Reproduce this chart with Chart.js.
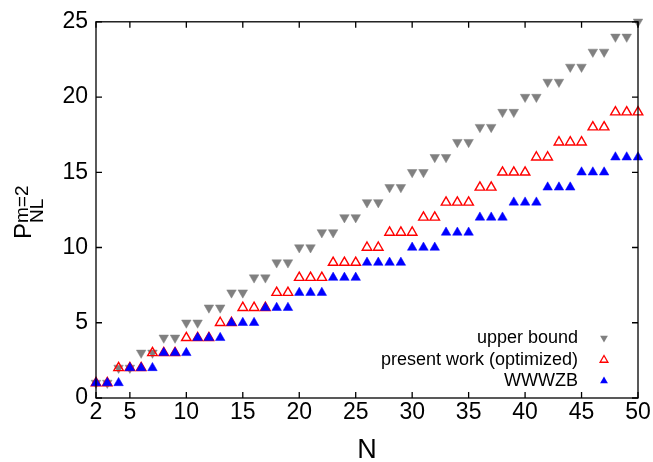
<!DOCTYPE html>
<html>
<head>
<meta charset="utf-8">
<script src="https://cdn.jsdelivr.net/npm/chart.js@4.4.1/dist/chart.umd.min.js"></script>
<style>
  html, body { margin: 0; padding: 0; background: #fff; }
  #wrap { width: 653px; height: 462px; }
</style>
</head>
<body>
<div id="wrap"><canvas id="chart"></canvas></div>
<script>
// N values on the x axis
const nValues = [2, 3, 4, 5, 6, 7, 8, 9, 10, 11, 12, 13, 14, 15, 16, 17, 18, 19, 20, 21, 22, 23, 24, 25,
    26, 27, 28, 29, 30, 31, 32, 33, 34, 35, 36, 37, 38, 39, 40, 41, 42, 43, 44, 45, 46, 47, 48, 49, 50];

const upperBound = [1, 1, 2, 2, 3, 3, 4, 4, 5, 5, 6, 6, 7, 7, 8, 8, 9, 9, 10, 10, 11, 11, 12, 12,
    13, 13, 14, 14, 15, 15, 16, 16, 17, 17, 18, 18, 19, 19, 20, 20, 21, 21, 22, 22, 23, 23, 24, 24, 25];

const presentWork = [1, 1, 2, 2, 2, 3, 3, 3, 4, 4, 4, 5, 5, 6, 6, 6, 7, 7, 8, 8, 8, 9, 9, 9,
    10, 10, 11, 11, 11, 12, 12, 13, 13, 13, 14, 14, 15, 15, 15, 16, 16, 17, 17, 17, 18, 18, 19, 19, 19];

const wwwzb = [1, 1, 1, 2, 2, 2, 3, 3, 3, 4, 4, 4, 5, 5, 5, 6, 6, 6, 7, 7, 7, 8, 8, 8,
    9, 9, 9, 9, 10, 10, 10, 11, 11, 11, 12, 12, 12, 13, 13, 13, 14, 14, 14, 15, 15, 15, 16, 16, 16];

const xTickValues = [2, 5, 10, 15, 20, 25, 30, 35, 40, 45, 50];
const yTickValues = [0, 5, 10, 15, 20, 25];

const seriesLabels = ['upper bound', 'present work (optimized)', 'WWWZB'];

const colors = {
    gray: '#808080',
    red: '#ff0000',
    blue: '#0000ff',
    text: '#000000'
};

const FONT = '"Liberation Sans", Arial, sans-serif';

function toPoints(ys) {
    return nValues.map((n, i) => ({ x: n, y: ys[i] }));
}

/* frame, inward ticks, axis titles and legend */
const decorations = {
    id: 'decorations',
    afterDraw(chart) {
        const { ctx, chartArea: a, scales } = chart;
        const tl = 6;
        ctx.save();
        ctx.strokeStyle = '#000';
        ctx.lineWidth = 1.3;
        ctx.strokeRect(a.left, a.top, a.right - a.left, a.bottom - a.top);
        ctx.beginPath();
        xTickValues.forEach(v => {
            const x = scales.x.getPixelForValue(v);
            ctx.moveTo(x, a.bottom); ctx.lineTo(x, a.bottom - tl);
            ctx.moveTo(x, a.top); ctx.lineTo(x, a.top + tl);
        });
        yTickValues.forEach(v => {
            const y = scales.y.getPixelForValue(v);
            ctx.moveTo(a.left, y); ctx.lineTo(a.left + tl, y);
            ctx.moveTo(a.right, y); ctx.lineTo(a.right - tl, y);
        });
        ctx.stroke();

        // x title
        ctx.fillStyle = colors.text;
        ctx.font = '27px ' + FONT;
        ctx.textAlign = 'center';
        ctx.textBaseline = 'alphabetic';
        ctx.fillText('N', (a.left + a.right) / 2, 458);

        // y title  P_{NL}^{m=2}
        ctx.save();
        ctx.translate(31, 239);
        ctx.rotate(-Math.PI / 2);
        ctx.textAlign = 'left';
        ctx.font = '24px ' + FONT;
        ctx.fillText('P', 0, 0);
        const pw = ctx.measureText('P').width;
        ctx.font = '19px ' + FONT;
        ctx.fillText('NL', pw, 12);
        ctx.fillText('m=2', pw, -3);
        ctx.restore();

        // legend
        const entries = [
            { y: 338, color: colors.gray, down: true, fill: true },
            { y: 360, color: colors.red, down: false, fill: false },
            { y: 381, color: colors.blue, down: false, fill: true }
        ];
        ctx.font = '18px ' + FONT;
        ctx.textAlign = 'right';
        ctx.textBaseline = 'middle';
        entries.forEach((e, i) => {
            ctx.fillStyle = colors.text;
            ctx.fillText(seriesLabels[i], 578, e.y);
            const mx = 604, r = 4.5;
            const s = e.down ? -1 : 1;
            ctx.beginPath();
            ctx.moveTo(mx, e.y - s * r);
            ctx.lineTo(mx + r * 0.866, e.y + s * r * 0.5);
            ctx.lineTo(mx - r * 0.866, e.y + s * r * 0.5);
            ctx.closePath();
            if (e.fill) {
                ctx.fillStyle = e.color;
                ctx.fill();
            } else {
                ctx.strokeStyle = e.color;
                ctx.lineWidth = 1.3;
                ctx.stroke();
            }
        });
        ctx.restore();
    }
};

new Chart(document.getElementById('chart'), {
    type: 'scatter',
    data: {
        datasets: [
            {
                label: seriesLabels[2],
                data: toPoints(wwwzb),
                pointStyle: 'triangle',
                pointRadius: 5.5,
                backgroundColor: colors.blue,
                borderColor: colors.blue,
                borderWidth: 0.5,
                order: 0,
                clip: false
            },
            {
                label: seriesLabels[1],
                data: toPoints(presentWork),
                pointStyle: 'triangle',
                pointRadius: 5.5,
                backgroundColor: 'rgba(255,255,255,0)',
                borderColor: colors.red,
                borderWidth: 1.4,
                order: 1,
                clip: false
            },
            {
                label: seriesLabels[0],
                data: toPoints(upperBound),
                pointStyle: 'triangle',
                rotation: 180,
                pointRadius: 5.5,
                backgroundColor: colors.gray,
                borderColor: colors.gray,
                borderWidth: 0.5,
                order: 2,
                clip: false
            }
        ]
    },
    options: {
        responsive: true,
        maintainAspectRatio: false,
        animation: false,
        events: [],
        layout: { padding: { top: 16, right: 15, left: 0, bottom: 0 } },
        scales: {
            x: {
                type: 'linear',
                min: 2,
                max: 50,
                afterBuildTicks: s => { s.ticks = xTickValues.map(v => ({ value: v })); },
                afterFit: s => { s.height = 64; },
                grid: { display: false, drawTicks: false },
                border: { display: false },
                ticks: {
                    color: colors.text,
                    font: { family: FONT, size: 23 },
                    padding: 1,
                    maxRotation: 0,
                    autoSkip: false
                }
            },
            y: {
                type: 'linear',
                min: 0,
                max: 25,
                afterBuildTicks: s => { s.ticks = yTickValues.map(v => ({ value: v })); },
                afterFit: s => { s.width = 96; },
                grid: { display: false, drawTicks: false },
                border: { display: false },
                ticks: {
                    color: colors.text,
                    font: { family: FONT, size: 23 },
                    padding: 8
                }
            }
        },
        plugins: {
            legend: { display: false },
            tooltip: { enabled: false }
        }
    },
    plugins: [decorations]
});
</script>
</body>
</html>
